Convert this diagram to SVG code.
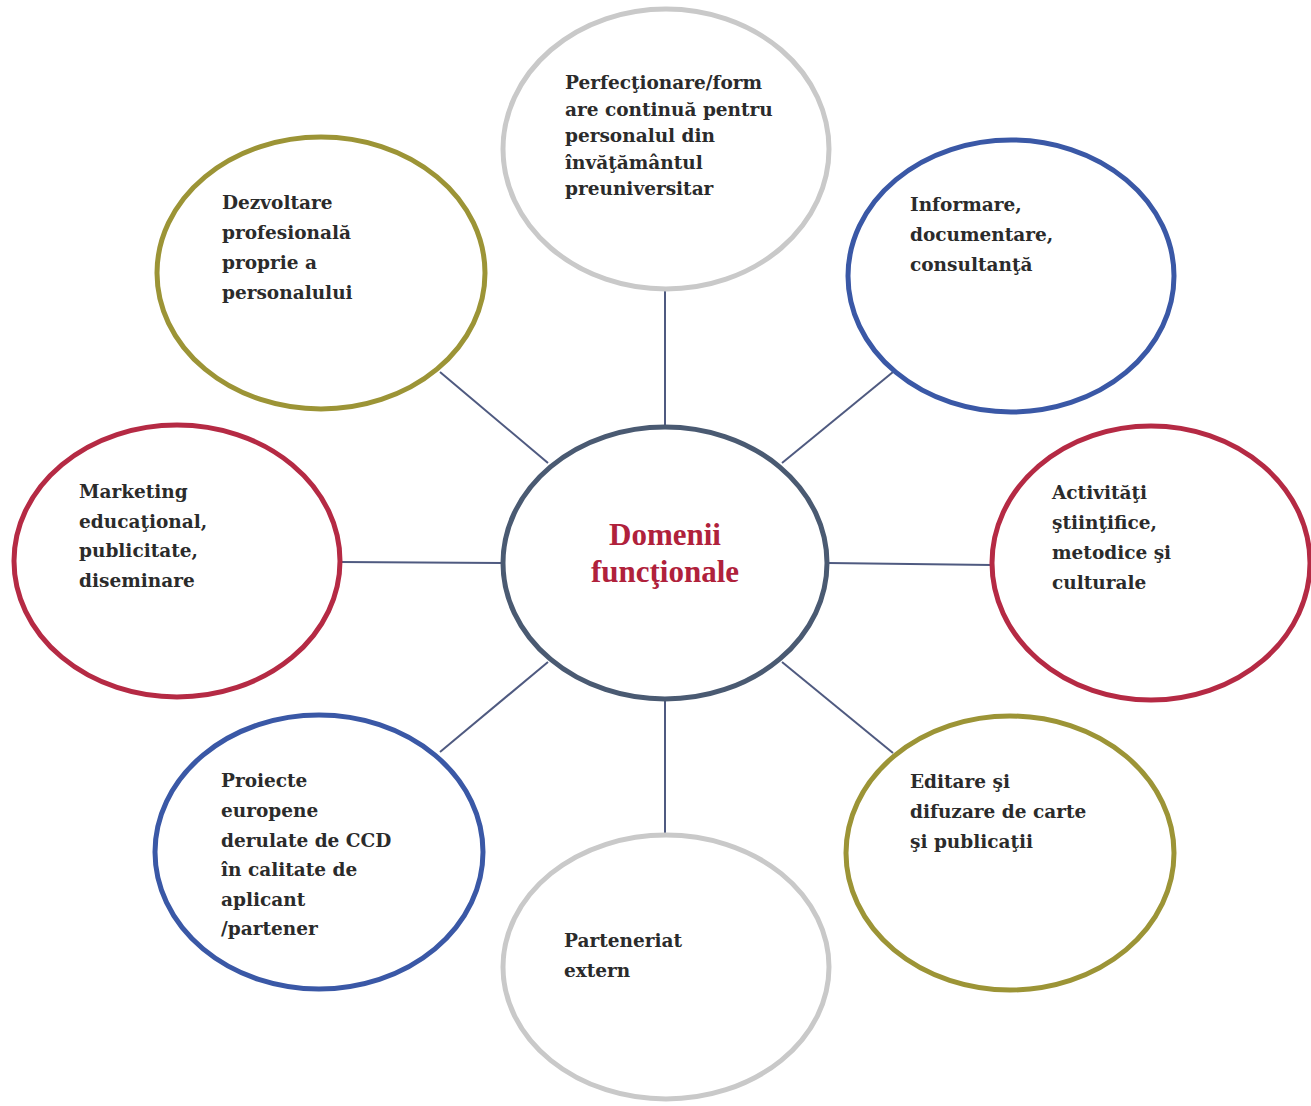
<svg xmlns="http://www.w3.org/2000/svg" width="1311" height="1106" viewBox="0 0 1311 1106">
<style>
.n{fill:#fff;stroke-width:5}
.olive{stroke:#9c9436}
.blue{stroke:#3a58a6}
.red{stroke:#b52a44}
.gray{stroke:#c9c9c9}
.center{stroke:#4a5a72}
.t{font-family:"DejaVu Serif","Liberation Serif",serif;font-weight:bold;font-size:18.5px;fill:#2b2b2b}
.c{font-family:"Liberation Serif","Times New Roman",serif;font-weight:bold;font-size:31px;fill:#b0213b;text-anchor:middle}
.e{stroke:#4f5a80;stroke-width:2;fill:none}
</style>
<rect width="1311" height="1106" fill="#fff"/>
<g id="connectors">
<line class="e" x1="665" y1="290" x2="665" y2="428"/>
<line class="e" x1="440" y1="372" x2="548" y2="463"/>
<line class="e" x1="893" y1="372" x2="782" y2="463"/>
<line class="e" x1="340" y1="562" x2="502" y2="563"/>
<line class="e" x1="828" y1="563" x2="992" y2="565"/>
<line class="e" x1="548" y1="662" x2="440" y2="752"/>
<line class="e" x1="782" y1="662" x2="893" y2="753"/>
<line class="e" x1="665" y1="700" x2="665" y2="836"/>
</g>
<g id="center">
<ellipse class="n center" cx="665" cy="563" rx="162" ry="136"/>
<text class="c" x="665" y="545">Domenii</text>
<text class="c" x="665" y="582">funcţionale</text>
</g>
<g id="top">
<ellipse class="n gray" cx="666" cy="149" rx="163" ry="140"/>
<text class="t" x="565"><tspan x="565" y="89">Perfecţionare/form</tspan><tspan x="565" y="115.5">are continuă pentru</tspan><tspan x="565" y="142">personalul din</tspan><tspan x="565" y="168.5">învăţământul</tspan><tspan x="565" y="195">preuniversitar</tspan></text>
</g>
<g id="top-left">
<ellipse class="n olive" cx="321" cy="273" rx="164" ry="136"/>
<text class="t"><tspan x="222" y="209">Dezvoltare</tspan><tspan x="222" y="239">profesională</tspan><tspan x="222" y="269">proprie a</tspan><tspan x="222" y="299">personalului</tspan></text>
</g>
<g id="top-right">
<ellipse class="n blue" cx="1011" cy="276" rx="163" ry="136"/>
<text class="t"><tspan x="910" y="211">Informare,</tspan><tspan x="910" y="241">documentare,</tspan><tspan x="910" y="271">consultanţă</tspan></text>
</g>
<g id="left">
<ellipse class="n red" cx="177" cy="561" rx="163" ry="136"/>
<text class="t"><tspan x="79" y="498">Marketing</tspan><tspan x="79" y="527.5">educaţional,</tspan><tspan x="79" y="557">publicitate,</tspan><tspan x="79" y="586.5">diseminare</tspan></text>
</g>
<g id="right">
<ellipse class="n red" cx="1151" cy="563" rx="159" ry="137"/>
<text class="t"><tspan x="1052" y="499">Activităţi</tspan><tspan x="1052" y="529">ştiinţifice,</tspan><tspan x="1052" y="559">metodice şi</tspan><tspan x="1052" y="589">culturale</tspan></text>
</g>
<g id="bottom-left">
<ellipse class="n blue" cx="319" cy="852" rx="164" ry="137"/>
<text class="t"><tspan x="221" y="787">Proiecte</tspan><tspan x="221" y="817">europene</tspan><tspan x="221" y="846.5">derulate de CCD</tspan><tspan x="221" y="876">în calitate de</tspan><tspan x="221" y="905.5">aplicant</tspan><tspan x="221" y="935">/partener</tspan></text>
</g>
<g id="bottom-right">
<ellipse class="n olive" cx="1010" cy="853" rx="164" ry="137"/>
<text class="t"><tspan x="910" y="788">Editare şi</tspan><tspan x="910" y="818">difuzare de carte</tspan><tspan x="910" y="848">şi publicaţii</tspan></text>
</g>
<g id="bottom">
<ellipse class="n gray" cx="666" cy="967" rx="163" ry="132"/>
<text class="t"><tspan x="564" y="947">Parteneriat</tspan><tspan x="564" y="977">extern</tspan></text>
</g>
</svg>
